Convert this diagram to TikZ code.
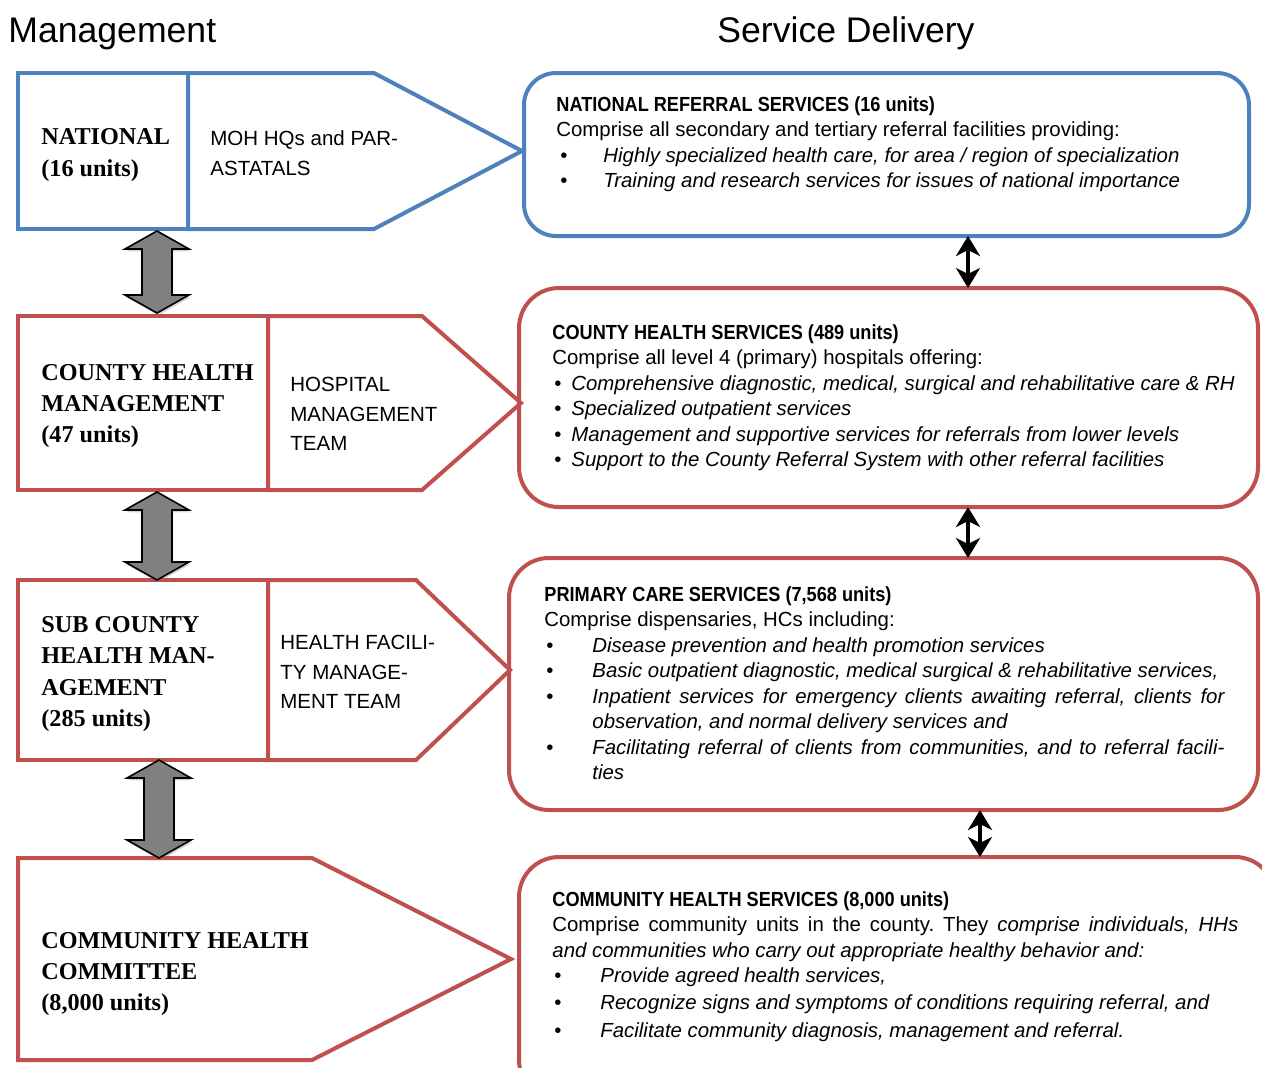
\documentclass[tikz,border=0pt]{standalone}
\usepackage{fontspec}
\usepackage{graphicx}
\setmainfont{Liberation Sans}
\newfontfamily\lblfont{Liberation Serif}
\usetikzlibrary{shadows,arrows.meta,calc}
\definecolor{ofblue}{HTML}{4F81BD}
\definecolor{ofred}{HTML}{C0504D}
\definecolor{agray}{HTML}{808080}
\newcommand\bi[2]{\hspace*{#1}\makebox[#2][l]{\textbullet}}
% block double arrow between two named coordinates (top, bottom)
\newcommand\garrowpath[2]{%
  \draw[garrow] (#1) -- ++(32,18) -- ++(-17,0) -- ($(#2)+(15,-18)$) -- ++(17,0) -- (#2)
    -- ++(-32,-18) -- ++(17,0) -- ($(#1)+(-15,18)$) -- ++(-17,0) -- cycle;}
\frenchspacing
\begin{document}
\begin{tikzpicture}[x=0.5pt,y=-0.5pt,
  lbox/.style={draw, line width=2pt, inner sep=0pt, outer sep=0pt, anchor=north west},
  pent/.style={line width=2pt, miter limit=10},
  rbox/.style={draw, line width=2pt, inner sep=0pt, outer sep=0pt},
  lbl/.style={anchor=west, align=left, inner sep=0pt, font=\lblfont\bfseries\fontsize{12.1}{15.6}\selectfont},
  mid/.style={anchor=west, align=left, inner sep=0pt, font=\fontsize{10.25}{14.75}\selectfont},
  body/.style={anchor=north west, align=left, inner sep=0pt, font=\fontsize{10.2}{12.75}\selectfont},
  title/.style={anchor=base west, inner sep=0pt, font=\fontsize{17.8}{20}\selectfont},
  garrow/.style={draw=black, line width=0.8pt, fill=agray, line join=miter,
    drop shadow={shadow xshift=0.6pt, shadow yshift=-1.2pt, opacity=0.35}},
  bar/.style={line width=2.2pt, {Stealth[length=10pt,width=12pt,inset=3pt]}-{Stealth[length=10pt,width=12pt,inset=3pt]}}
]
\useasboundingbox (0,0) rectangle (1262,1067);
\clip (0,0) rectangle (1262,1067);

% titles
\node[title] (tmgmt) at (8,42) {Management};
\node[title] (tsd) at (717,42) {Service Delivery};

% left column
\node[lbox, draw=ofblue, minimum width=85pt, minimum height=78pt] (natL) at (18,73) {};
\draw[pent, draw=ofblue] (natL.north east) -- (374,73) -- (522,151) -- (374,229) -- (natL.south east) -- cycle;
\node[lbl] (natT) at (41,155) {NATIONAL\\(16 units)};
\node[mid] (natM) at (210,153) {MOH HQs and PAR-\\ASTATALS};

\node[lbox, draw=ofred, minimum width=125pt, minimum height=87pt] (ctyL) at (18,316) {};
\draw[pent, draw=ofred] (ctyL.north east) -- (422,316) -- (521,403) -- (422,490) -- (ctyL.south east) -- cycle;
\node[lbl] (ctyT) at (41,406) {COUNTY HEALTH\\MANAGEMENT\\(47 units)};
\node[mid] (ctyM) at (290,414) {HOSPITAL\\MANAGEMENT\\TEAM};

\node[lbox, draw=ofred, minimum width=125pt, minimum height=90pt] (subL) at (18,580) {};
\draw[pent, draw=ofred] (subL.north east) -- (416,580) -- (510,670) -- (416,760) -- (subL.south east) -- cycle;
\node[lbl] (subT) at (41,674) {SUB COUNTY\\HEALTH MAN-\\AGEMENT\\(285 units)};
\node[mid] (subM) at (280,672) {HEALTH FACILI-\\TY MANAGE-\\MENT TEAM};

\draw[pent, draw=ofred] (18,858) -- (312,858) -- (511,959) -- (312,1060) -- (18,1060) -- cycle;
\coordinate (comTop) at (159,858);
\node[lbl] (comT) at (41,974) {COMMUNITY HEALTH\\COMMITTEE\\(8,000 units)};

% gray double arrows
\coordinate (gx) at (157,0);
\coordinate (gx3) at (159,0);
\coordinate (g1t) at ($(gx |- natL.south)+(0,2)$);
\coordinate (g1b) at ($(gx |- ctyL.north)+(0,-3)$);
\coordinate (g2t) at ($(gx |- ctyL.south)+(0,2)$);
\coordinate (g2b) at ($(gx |- subL.north)+(0,0)$);
\coordinate (g3t) at ($(gx3 |- subL.south)+(0,0)$);
\coordinate (g3b) at (comTop);
\garrowpath{g1t}{g1b}
\garrowpath{g2t}{g2b}
\garrowpath{g3t}{g3b}

% right column
\node[rbox, draw=ofblue, rounded corners=16pt, minimum width=362.5pt, minimum height=81.5pt] (r1) at (886.5,154.5) {};
\node[rbox, draw=ofred, rounded corners=20pt, minimum width=369.5pt, minimum height=109.5pt] (r2) at (888.5,397.5) {};
\node[rbox, draw=ofred, rounded corners=20pt, minimum width=374.5pt, minimum height=126pt] (r3) at (883.5,684) {};
\node[rbox, draw=ofred, rounded corners=20pt, minimum width=378pt, minimum height=121.5pt] (r4) at (897,978.5) {};

\node[body] (r1t) at (556,96) {%
\scalebox{0.89}[1]{\bfseries NATIONAL REFERRAL SERVICES (16 units)}\\
Comprise all secondary and tertiary referral facilities providing:\\
\bi{2pt}{21.5pt}\textit{Highly specialized health care, for area / region of specialization}\\
\bi{2pt}{21.5pt}\textit{Training and research services for issues of national importance}};

\node[body] (r2t) at (552,324) {%
\scalebox{0.89}[1]{\bfseries COUNTY HEALTH SERVICES (489 units)}\\
Comprise all level 4 (primary) hospitals offering:\\
\bi{1pt}{8.5pt}\textit{Comprehensive diagnostic, medical, surgical and rehabilitative care \& RH}\\
\bi{1pt}{8.5pt}\textit{Specialized outpatient services}\\
\bi{1pt}{8.5pt}\textit{Management and supportive services for referrals from lower levels}\\
\bi{1pt}{8.5pt}\textit{Support to the County Referral System with other referral facilities}};

\node[body] (r3t) at (544,586) {%
\scalebox{0.89}[1]{\bfseries PRIMARY CARE SERVICES (7,568 units)}\\
Comprise dispensaries, HCs including:\\
\bi{1pt}{23pt}\textit{Disease prevention and health promotion services}\\
\bi{1pt}{23pt}\textit{Basic outpatient diagnostic, medical surgical \& rehabilitative services,}\\
\bi{1pt}{23pt}\makebox[316pt][s]{\itshape Inpatient services for emergency clients awaiting referral, clients for}\\
\hspace*{24pt}\textit{observation, and normal delivery services and}\\
\bi{1pt}{23pt}\makebox[316pt][s]{\itshape Facilitating referral of clients from communities, and to referral facili-}\\
\hspace*{24pt}\textit{ties}};

\node[body] (r4t) at (552,891) {%
\scalebox{0.89}[1]{\bfseries COMMUNITY HEALTH SERVICES (8,000 units)}\\
\makebox[343pt][s]{Comprise community units in the county. They \itshape comprise individuals, HHs}\\
\textit{and communities who carry out appropriate healthy behavior and:}\\
\bi{1pt}{23pt}\textit{Provide agreed health services,}\\[0.75pt]
\bi{1pt}{23pt}\textit{Recognize signs and symptoms of conditions requiring referral, and}\\[1pt]
\bi{1pt}{23pt}\textit{Facilitate community diagnosis, management and referral.}};

% black double arrows between service boxes
\coordinate (ax1) at (968,0);
\coordinate (ax3) at (980,0);
\draw[bar] (ax1 |- r1.south) -- (ax1 |- r2.north);
\draw[bar] (ax1 |- r2.south) -- (ax1 |- r3.north);
\draw[bar] (ax3 |- r3.south) -- (ax3 |- r4.north);
\end{tikzpicture}
\end{document}
